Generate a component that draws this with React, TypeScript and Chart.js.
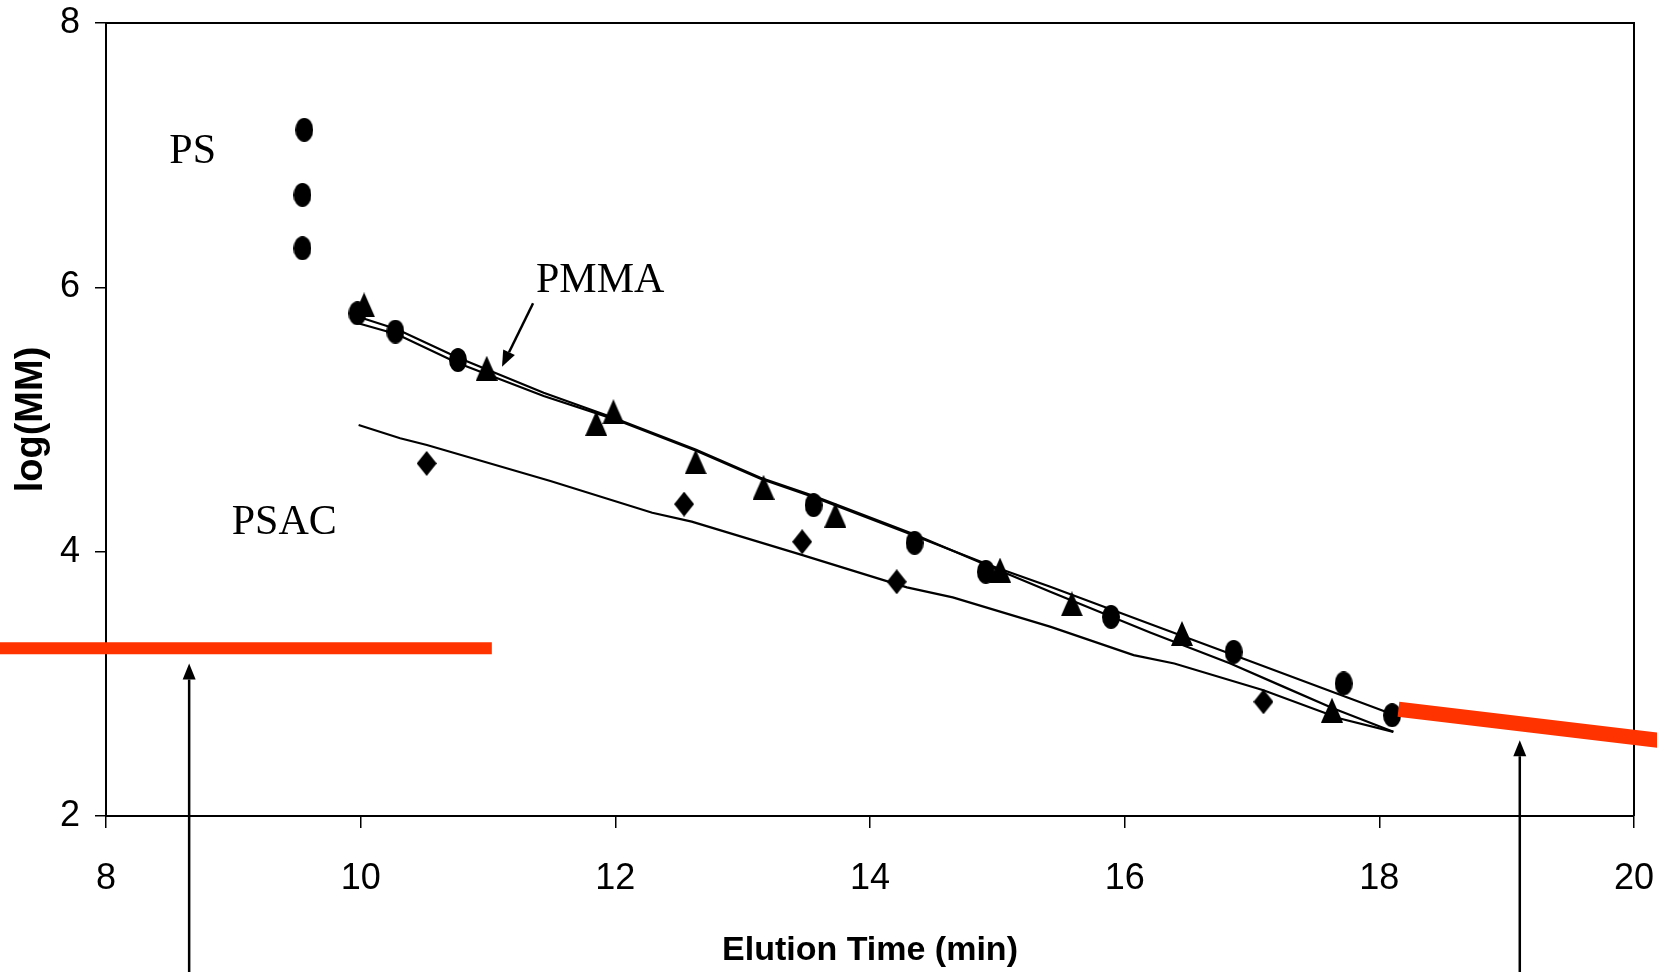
import React, { useEffect, useRef } from 'react';
import { Chart, registerables } from 'chart.js';
Chart.register(...registerables);

// ---- data ----
const psX = [9.557, 9.543, 9.543, 9.975, 10.273, 10.764, 13.557, 14.35, 14.91, 15.893, 16.856, 17.72, 18.1];
const psY = [7.192, 6.70, 6.296, 5.804, 5.665, 5.45, 4.353, 4.067, 3.848, 3.507, 3.242, 3.003, 2.763];

const pmmaX = [10.027, 10.99, 11.85, 11.985, 12.631, 13.164, 13.728, 15.021, 15.585, 16.45, 17.628];
const pmmaY = [5.867, 5.388, 4.971, 5.059, 4.68, 4.487, 4.277, 3.861, 3.605, 3.381, 2.801];

const psacX = [10.518, 12.54, 13.467, 14.21, 17.09];
const psacY = [4.668, 4.36, 4.075, 3.772, 2.864];

const psFitX = [9.98, 10.285, 10.757, 11.437, 11.985, 12.63, 13.14, 13.56, 14.345, 14.946, 15.416, 16.2, 16.85, 18.087];
const psFitY = [5.728, 5.645, 5.43, 5.178, 5.005, 4.765, 4.551, 4.412, 4.122, 3.895, 3.734, 3.452, 3.22, 2.776];

const pmmaFitX = [9.98, 10.285, 10.757, 11.437, 11.985, 12.63, 13.14, 13.56, 14.345, 14.946, 15.416, 16.2, 16.83, 17.25, 17.64, 18.11];
const pmmaFitY = [5.778, 5.683, 5.471, 5.203, 5.013, 4.773, 4.559, 4.42, 4.132, 3.886, 3.696, 3.389, 3.154, 2.977, 2.814, 2.637];

const psacFitX = [9.984, 10.31, 10.52, 11.49, 12.29, 12.6, 13.47, 14.29, 14.65, 15.42, 16.07, 16.39, 17.09, 17.69, 18.11];
const psacFitY = [4.958, 4.858, 4.807, 4.535, 4.294, 4.227, 3.974, 3.73, 3.654, 3.431, 3.217, 3.154, 2.952, 2.738, 2.637];

const redLeftX = [7.0, 11.03];
const redLeftY = [3.27, 3.27];
const redRightX = [18.15, 20.35];
const redRightY = [2.808, 2.555];

const xMin = 8, xMax = 20, xStep = 2;
const yMin = 2, yMax = 8, yStep = 2;

const xTitle = 'Elution Time (min)';
const yTitle = 'log(MM)';

// annotations: [label, x, y]
const textLabels: [string, number, number][] = [
  ['PS', 8.497, 6.942],
  ['PMMA', 11.377, 5.967],
  ['PSAC', 8.987, 4.137],
];
// arrows: [fromX, fromY, toX, toY]
const arrows: [number, number, number, number][] = [
  [8.653, 0.3, 8.653, 3.154],
  [19.103, 0.3, 19.103, 2.574],
  [11.354, 5.88, 11.11, 5.40],
];

const SANS = "'Liberation Sans', Arial, sans-serif";

const pts = (xs: number[], ys: number[]) => xs.map((x, i) => ({ x, y: ys[i] }));

function makeMarker(w: number, h: number, draw: (g: CanvasRenderingContext2D, w: number, h: number) => void) {
  const c = document.createElement('canvas');
  c.width = w;
  c.height = h;
  const g = c.getContext('2d')!;
  g.fillStyle = '#000';
  draw(g, w, h);
  return c;
}

export default function App() {
  const ref = useRef<HTMLCanvasElement | null>(null);

  useEffect(() => {
    document.body.style.margin = '0';
    const canvas = ref.current!;
    const circle = makeMarker(18, 24, (g, w, h) => {
      g.beginPath();
      g.ellipse(w / 2, h / 2, w / 2, h / 2, 0, 0, Math.PI * 2);
      g.fill();
    });
    const tri = makeMarker(22, 25, (g, w, h) => {
      g.beginPath();
      g.moveTo(w / 2, 0);
      g.lineTo(w, h);
      g.lineTo(0, h);
      g.closePath();
      g.fill();
    });
    const dia = makeMarker(20, 25, (g, w, h) => {
      g.beginPath();
      g.moveTo(w / 2, 0);
      g.lineTo(w, h / 2);
      g.lineTo(w / 2, h);
      g.lineTo(0, h / 2);
      g.closePath();
      g.fill();
    });

    const annot = {
      id: 'annot',
      beforeDatasetsDraw(chart: any) {
        const { ctx, chartArea: a } = chart;
        ctx.save();
        ctx.strokeStyle = '#000';
        ctx.lineWidth = 2;
        ctx.beginPath();
        ctx.moveTo(a.left, a.top);
        ctx.lineTo(a.right, a.top);
        ctx.lineTo(a.right, a.bottom);
        ctx.stroke();
        ctx.restore();
      },
      afterDatasetsDraw(chart: any) {
        const { ctx } = chart;
        const xs = chart.scales.x, ys = chart.scales.y;
        ctx.save();
        ctx.fillStyle = '#000';
        ctx.strokeStyle = '#000';
        for (const [fx, fy, tx, ty] of arrows) {
          const x0 = xs.getPixelForValue(fx), y0 = ys.getPixelForValue(fy);
          const x1 = xs.getPixelForValue(tx), y1 = ys.getPixelForValue(ty);
          const ang = Math.atan2(y1 - y0, x1 - x0);
          const hl = 16, hw = 6.5;
          const bx = x1 - hl * Math.cos(ang), by = y1 - hl * Math.sin(ang);
          ctx.lineWidth = 2.5;
          ctx.beginPath();
          ctx.moveTo(x0, y0);
          ctx.lineTo(bx, by);
          ctx.stroke();
          ctx.beginPath();
          ctx.moveTo(x1, y1);
          ctx.lineTo(bx + hw * Math.sin(ang), by - hw * Math.cos(ang));
          ctx.lineTo(bx - hw * Math.sin(ang), by + hw * Math.cos(ang));
          ctx.closePath();
          ctx.fill();
        }
        ctx.font = "42px 'Liberation Serif', 'Times New Roman', serif";
        ctx.textAlign = 'left';
        ctx.textBaseline = 'alphabetic';
        for (const [t, x, y] of textLabels) {
          ctx.fillText(t, xs.getPixelForValue(x), ys.getPixelForValue(y));
        }
        ctx.restore();
      },
    };

    const lineDs = (xs: number[], ys: number[], color: string, width: number) => ({
      data: pts(xs, ys),
      showLine: true,
      borderColor: color,
      borderWidth: width,
      pointRadius: 0,
      pointHoverRadius: 0,
      tension: 0,
      fill: false,
    });

    const markerDs = (xs: number[], ys: number[], style: HTMLCanvasElement) => ({
      data: pts(xs, ys),
      showLine: false,
      pointStyle: style,
      pointRadius: 8,
      pointHoverRadius: 8,
      backgroundColor: '#000',
      borderColor: '#000',
    });

    const chart = new Chart(canvas, {
      type: 'scatter',
      data: {
        datasets: [
          { ...lineDs(redLeftX, redLeftY, '#FF3300', 12), clip: false, borderCapStyle: 'butt' } as any,
          { ...lineDs(redRightX, redRightY, '#FF3300', 15), clip: false, borderCapStyle: 'butt' } as any,
          markerDs(psX, psY, circle),
          markerDs(pmmaX, pmmaY, tri),
          markerDs(psacX, psacY, dia),
          lineDs(psFitX, psFitY, '#000', 2.2),
          lineDs(pmmaFitX, pmmaFitY, '#000', 2.2),
          lineDs(psacFitX, psacFitY, '#000', 2.2),
        ],
      },
      options: {
        animation: false,
        responsive: false,
        maintainAspectRatio: false,
        layout: { padding: { top: 23, right: 23, left: 0, bottom: 0 } },
        plugins: { legend: { display: false }, tooltip: { enabled: false } },
        events: [],
        scales: {
          x: {
            type: 'linear',
            min: xMin,
            max: xMax,
            afterFit: (s: any) => { s.height = 156; s.paddingLeft = 0; s.paddingRight = 0; },
            ticks: {
              stepSize: xStep,
              color: '#000',
              padding: 33,
              maxRotation: 0,
              font: { family: SANS, size: 36, lineHeight: 1 },
            },
            grid: { display: true, drawOnChartArea: false, drawTicks: true, tickLength: 12, color: '#000', lineWidth: 1.5 },
            border: { display: true, color: '#000', width: 2 },
            title: {
              display: true,
              text: xTitle,
              color: '#000',
              padding: { top: 0, bottom: 4 },
              font: { family: SANS, size: 34, weight: 'bold', lineHeight: 1 },
            },
          },
          y: {
            type: 'linear',
            min: yMin,
            max: yMax,
            afterFit: (s: any) => { s.width = 106; s.paddingTop = 0; s.paddingBottom = 0; },
            ticks: {
              stepSize: yStep,
              color: '#000',
              padding: 15,
              font: { family: SANS, size: 36, lineHeight: 1 },
            },
            grid: { display: true, drawOnChartArea: false, drawTicks: true, tickLength: 11, color: '#000', lineWidth: 1.5 },
            border: { display: true, color: '#000', width: 2 },
            title: {
              display: true,
              text: yTitle,
              color: '#000',
              padding: { top: 13, bottom: 0 },
              font: { family: SANS, size: 38, weight: 'bold', lineHeight: 1 },
            },
          },
        },
      } as any,
      plugins: [annot],
    });
    return () => chart.destroy();
  }, []);

  return (
    <div style={{ width: 1657, height: 972, background: '#fff' }}>
      <canvas ref={ref} width={1657} height={972} style={{ display: 'block' }} />
    </div>
  );
}
